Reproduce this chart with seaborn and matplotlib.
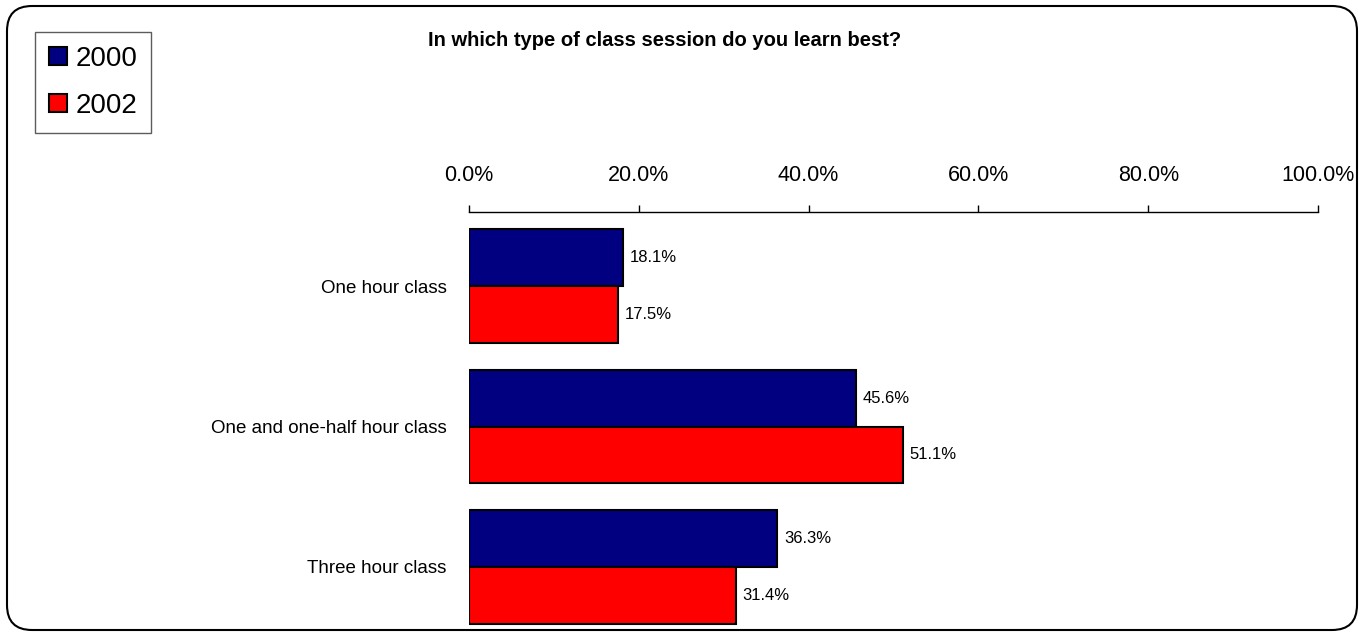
import pandas as pd
import seaborn as sns
import matplotlib.pyplot as plt
from matplotlib.patches import FancyBboxPatch

categories = ["One hour class", "One and one-half hour class", "Three hour class"]
years = ["2000", "2002"]
values_2000 = [18.1, 45.6, 36.3]
values_2002 = [17.5, 51.1, 31.4]
ticks = [0, 20, 40, 60, 80, 100]
colors = {"2000": "#000080", "2002": "#ff0000"}

df = pd.DataFrame({
    "category": categories * 2,
    "year": [years[0]] * 3 + [years[1]] * 3,
    "value": values_2000 + values_2002,
})

sns.set_style("white")
plt.rcParams["font.family"] = ["Liberation Sans", "DejaVu Sans"]
plt.rcParams["text.color"] = "black"
plt.rcParams["xtick.color"] = "black"
plt.rcParams["ytick.color"] = "black"

fig = plt.figure(figsize=(13.64, 6.33), dpi=100)
ax = fig.add_axes([469 / 1364, 0.0, (1318 - 469) / 1364, 1 - 212 / 633])

sns.barplot(data=df, x="value", y="category", hue="year", orient="h",
            palette=colors, saturation=1, width=0.81,
            edgecolor="black", linewidth=1.5, ax=ax, legend=False)

for cont in ax.containers:
    ax.bar_label(cont, fmt="%.1f%%", padding=5, fontsize=12, color="black")

ax.set_xlim(0, 100)
ax.set_ylim(2.47, -0.527)
ax.set_xticks(ticks)
ax.set_xticklabels([f"{t:.1f}%" for t in ticks], fontsize=15.5)
ax.xaxis.tick_top()
ax.tick_params(axis="x", direction="out", length=5, width=1, color="black", pad=14)
ax.tick_params(axis="y", length=0, pad=16, labelsize=13.5)
ax.set_xlabel("")
ax.set_ylabel("")
for s in ["left", "right", "bottom"]:
    ax.spines[s].set_visible(False)
ax.spines["top"].set_color("black")
ax.spines["top"].set_linewidth(1)

fig.text(665 / 1364, 1 - 41 / 633, "In which type of class session do you learn best?",
         ha="center", va="center", fontsize=14.5, fontweight="bold")

handles = [plt.Rectangle((0, 0), 1, 1, facecolor=colors[y], edgecolor="black", linewidth=1.5)
           for y in years]
leg = fig.legend(handles, years, loc="upper left", bbox_to_anchor=(35 / 1364, 1 - 32 / 633),
                 borderaxespad=0, fontsize=20, frameon=True, fancybox=False,
                 edgecolor="#333333", handlelength=0.65, handleheight=0.65,
                 handletextpad=0.3, labelspacing=0.75, borderpad=0.5)
leg.get_frame().set_linewidth(1)

frame = FancyBboxPatch((7, 3), 1350, 624, boxstyle="round,pad=0,rounding_size=25",
                       transform=None, fill=False, edgecolor="black", linewidth=1.5)
fig.patches.append(frame)

fig.savefig("out.png", dpi=100)
